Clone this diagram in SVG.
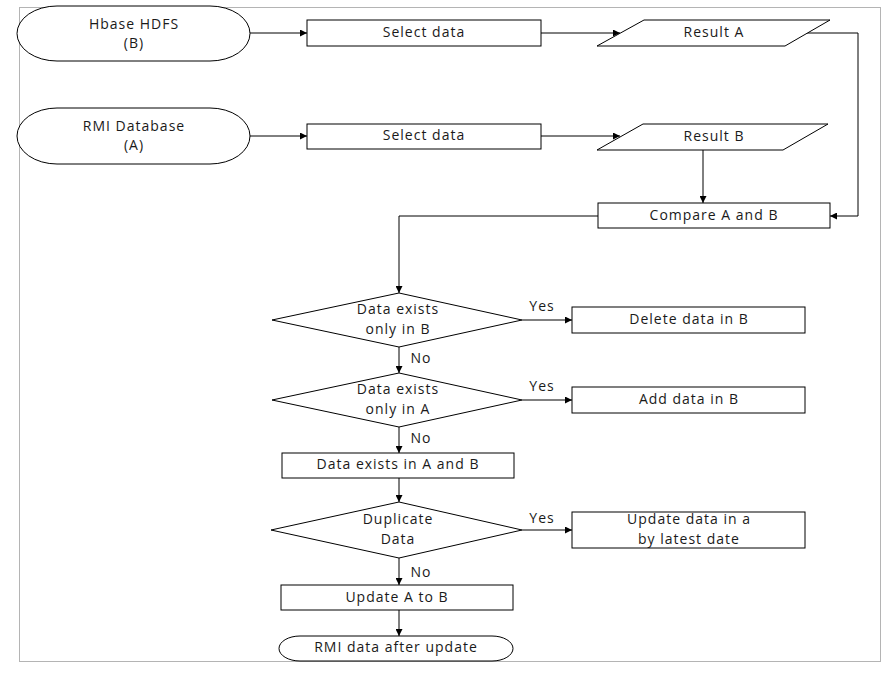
<svg xmlns="http://www.w3.org/2000/svg" width="893" height="673" viewBox="0 0 893 673">
<style>
.s{fill:#fff;stroke:#000;stroke-width:1}
.t{font-family:"Open Sans","Noto Sans",sans-serif;font-size:14px;letter-spacing:1px;fill:#1a1a1a;text-anchor:middle;dominant-baseline:middle}
.c{fill:none;stroke:#000;stroke-width:1}
</style>
<defs>
<marker id="a" viewBox="0 0 10 10" refX="10" refY="5" markerWidth="9" markerHeight="7" markerUnits="userSpaceOnUse" orient="auto">
<path d="M0,0 L10,5 L0,10 z" fill="#000"/>
</marker>
</defs>
<rect x="0" y="0" width="893" height="673" fill="#fff"/>
<rect x="19.5" y="7.5" width="861" height="654" fill="none" stroke="#b4b4b4" stroke-width="1"/>
<g id="connectors">
<path class="c" d="M250,33 H307" marker-end="url(#a)"/>
<path class="c" d="M250,136 H307" marker-end="url(#a)"/>
<path class="c" d="M541,33 H620" marker-end="url(#a)"/>
<path class="c" d="M541,136 H620" marker-end="url(#a)"/>
<path class="c" d="M807,33 H858 V216 H830" marker-end="url(#a)"/>
<path class="c" d="M703,150 V203" marker-end="url(#a)"/>
<path class="c" d="M598,216 H399 V293" marker-end="url(#a)"/>
<path class="c" d="M522,320 H572" marker-end="url(#a)"/>
<path class="c" d="M399,347 V373" marker-end="url(#a)"/>
<path class="c" d="M522,400 H572" marker-end="url(#a)"/>
<path class="c" d="M399,427 V453" marker-end="url(#a)"/>
<path class="c" d="M399,478 V502" marker-end="url(#a)"/>
<path class="c" d="M522,530 H572" marker-end="url(#a)"/>
<path class="c" d="M399,558 V585" marker-end="url(#a)"/>
<path class="c" d="M399,610 V636" marker-end="url(#a)"/>
<text class="t" x="542" y="307">Yes</text>
<text class="t" x="421" y="359">No</text>
<text class="t" x="542" y="387">Yes</text>
<text class="t" x="421" y="439">No</text>
<text class="t" x="542" y="519">Yes</text>
<text class="t" x="421" y="573">No</text>
</g>
<g id="hbase">
<path class="s" d="M57,6 H210 A40,27.5 0 0 1 210,61 H57 A40,27.5 0 0 1 57,6 z"/>
<text class="t" x="134" y="25">Hbase HDFS</text>
<text class="t" x="134" y="44.5">(B)</text>
</g>
<g id="rmi">
<path class="s" d="M57,108 H210 A40,28 0 0 1 210,164 H57 A40,28 0 0 1 57,108 z"/>
<text class="t" x="134" y="127">RMI Database</text>
<text class="t" x="134" y="146.5">(A)</text>
</g>
<g id="select1">
<rect class="s" x="307" y="20" width="234" height="26"/>
<text class="t" x="424" y="33">Select data</text>
</g>
<g id="select2">
<rect class="s" x="307" y="124" width="234" height="25"/>
<text class="t" x="424" y="136">Select data</text>
</g>
<g id="resultA">
<path class="s" d="M644,20 H830 L785,46 H597 z"/>
<text class="t" x="714" y="33">Result A</text>
</g>
<g id="resultB">
<path class="s" d="M643,124 H828 L783,150 H597 z"/>
<text class="t" x="714" y="137">Result B</text>
</g>
<g id="compare">
<rect class="s" x="598" y="203" width="232" height="25"/>
<text class="t" x="714" y="216">Compare A and B</text>
</g>
<g id="d1">
<path class="s" d="M399,293 L522,320 L399,347 L272,320 z"/>
<text class="t" x="398" y="310.5">Data exists</text>
<text class="t" x="398" y="330">only in B</text>
</g>
<g id="delete">
<rect class="s" x="572" y="307" width="233" height="26"/>
<text class="t" x="689" y="320">Delete data in B</text>
</g>
<g id="d2">
<path class="s" d="M399,373 L522,400 L399,427 L272,400 z"/>
<text class="t" x="398" y="390.5">Data exists</text>
<text class="t" x="398" y="410">only in A</text>
</g>
<g id="add">
<rect class="s" x="572" y="387" width="233" height="26"/>
<text class="t" x="689" y="400">Add data in B</text>
</g>
<g id="both">
<rect class="s" x="282" y="453" width="232" height="25"/>
<text class="t" x="398" y="465">Data exists in A and B</text>
</g>
<g id="d3">
<path class="s" d="M399,502 L522,530 L399,558 L271,530 z"/>
<text class="t" x="398" y="520.5">Duplicate</text>
<text class="t" x="398" y="540">Data</text>
</g>
<g id="updlatest">
<rect class="s" x="572" y="512" width="233" height="36"/>
<text class="t" x="689" y="520.5">Update data in a</text>
<text class="t" x="689" y="540">by latest date</text>
</g>
<g id="updab">
<rect class="s" x="281" y="585" width="232" height="25"/>
<text class="t" x="397" y="598">Update A to B</text>
</g>
<g id="end">
<path class="s" d="M300,636 H492 A21,12.5 0 0 1 492,661 H300 A21,12.5 0 0 1 300,636 z"/>
<text class="t" x="396" y="648">RMI data after update</text>
</g>
</svg>
